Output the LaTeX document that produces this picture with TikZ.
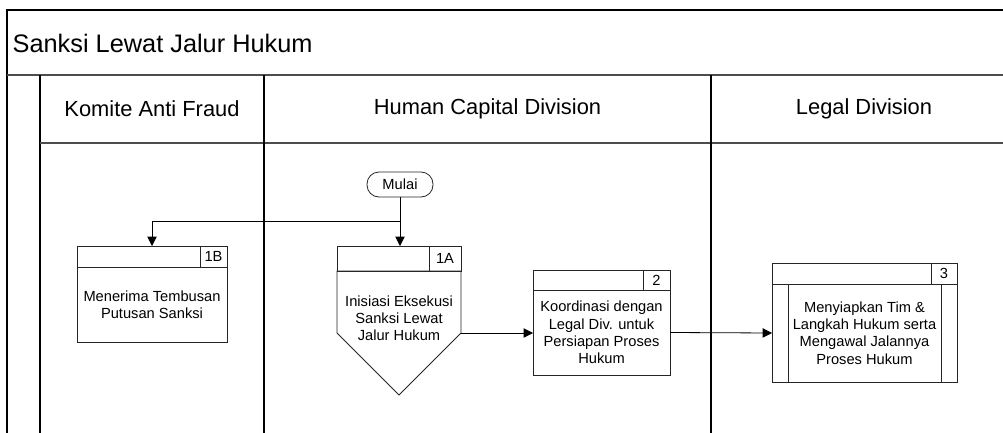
\documentclass[tikz,border=0pt]{standalone}
\usepackage{fontspec}
\setmainfont{Liberation Sans}
\usetikzlibrary{arrows.meta, positioning}

\begin{document}
\begin{tikzpicture}[
    x=0.75pt, y=-0.75pt,
    every node/.style={outer sep=0pt, inner sep=2pt},
    lane/.style={line width=0.8pt},
    band/.style={line width=1.1pt, black!70},
    boxline/.style={draw=black!85, line width=0.6pt},
    box/.style={boxline, rectangle, align=center, font=\fontsize{11}{13}\selectfont},
    hdr/.style={boxline, rectangle, minimum height=#1},
    num/.style={boxline, rectangle, minimum height=#1, inner sep=0pt, font=\fontsize{11}{13}\selectfont},
    lanetitle/.style={font=\fontsize{16.4}{20}\selectfont},
    flow/.style={line width=0.6pt, -{Triangle[length=7pt, width=7pt]}}
]

% page
\path[use as bounding box, fill=white] (0,0) rectangle (1003,432);
\clip (0,0) rectangle (1003,432);

% Title band
\draw[lane] (7,440) -- (7,10) -- (1020,10);
\draw[band] (7,75) -- (1020,75);
\node[anchor=west, font=\fontsize{19}{23}\selectfont] (title) at (10,43) {Sanksi Lewat Jalur Hukum};

% Lanes
\draw[lane] (40,75) -- (40,440);
\draw[band] (40,143) -- (1020,143);
\foreach \x in {264, 711}
    \draw[lane] (\x,75) -- (\x,440);

\node[lanetitle] (kaf) at (152,109) {Komite Anti Fraud};
\node[lanetitle] (hcd) at (487.5,109) {Human Capital Division};
\node[lanetitle] (legal) at (864,109) {Legal Division};

% Start
\node[boxline, rounded corners=9pt, minimum width=49.5pt, minimum height=18.75pt,
    font=\fontsize{11}{13}\selectfont] (mulai) at (400,184.5) {Mulai};
\coordinate (split) at (400,221);

% 1B Box
\node[box, minimum width=112.5pt, minimum height=56.25pt] (b1B) at (152,304.5) {
    Menerima Tembusan\\
    Putusan Sanksi
};
\node[hdr=15.75pt, minimum width=112.5pt, above=0pt of b1B] (h1B) {};
\node[num=15.75pt, minimum width=20.25pt, anchor=north east] (n1B) at (h1B.north east) {1B};

% 1A Box (off-page pointer shape)
\node[minimum width=93pt, minimum height=46.5pt] (b1A) at (399,302) {};
\coordinate[below=46.5pt of b1A.south] (tip1A);
\draw[boxline] (b1A.north west) -- (b1A.north east) -- (b1A.south east)
    -- (tip1A) -- (b1A.south west) -- cycle;
\node[align=center, font=\fontsize{11}{12.75}\selectfont] (t1A) at (399,318) {
    Inisiasi Eksekusi\\
    Sanksi Lewat\\
    Jalur Hukum
};
\node[hdr=18.75pt, minimum width=93pt, above=0pt of b1A] (h1A) {};
\node[num=18.75pt, minimum width=24pt, anchor=north east] (n1A) at (h1A.north east) {1A};

% 2 Box
\node[box, minimum width=102.75pt, minimum height=63.75pt] (b2) at (601.5,332.5) {
    Koordinasi dengan\\
    Legal Div. untuk\\
    Persiapan Proses\\
    Hukum
};
\node[hdr=15pt, minimum width=102.75pt, above=0pt of b2] (h2) {};
\node[num=15pt, minimum width=20.25pt, anchor=north east] (n2) at (h2.north east) {2};

% 3 Box (predefined process)
\node[box, minimum width=138.75pt, minimum height=73.5pt] (b3) at (864.5,333) {
    Menyiapkan Tim \&\\
    Langkah Hukum serta\\
    Mengawal Jalannya\\
    Proses Hukum
};
\draw[boxline] ([xshift=12pt]b3.north west) -- ([xshift=12pt]b3.south west);
\draw[boxline] ([xshift=-12pt]b3.north east) -- ([xshift=-12pt]b3.south east);
\node[hdr=15.75pt, minimum width=138.75pt, above=0pt of b3] (h3) {};
\node[num=15.75pt, minimum width=19.5pt, anchor=north east] (n3) at (h3.north east) {3};

% Flow
\draw[flow] (mulai.south) -- (mulai.south |- h1A.north);
\draw[flow] (split) -| (h1B.north);
\draw[flow] (b1A.south east) -- (b1A.south east -| b2.west);
\draw[flow] (b2.east) -- (b3.west);

\end{tikzpicture}
\end{document}
